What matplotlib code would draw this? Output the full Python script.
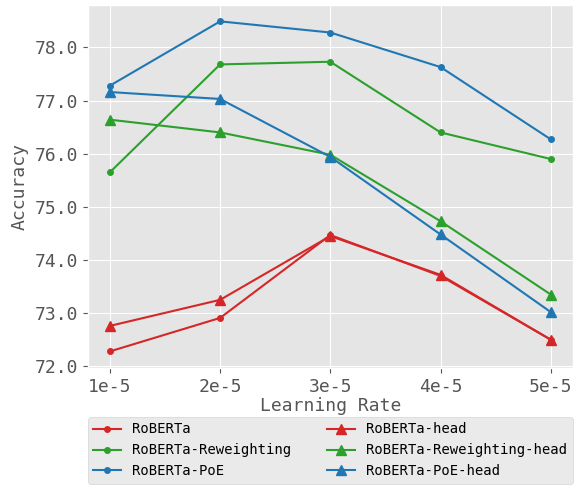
import matplotlib
matplotlib.use('Agg')
import numpy as np
import matplotlib.pyplot as plt

plt.style.use('ggplot')
plt.rcParams['font.family'] = ['DejaVu Sans Mono']

# data
lr_labels = ["1e-5", "2e-5", "3e-5", "4e-5", "5e-5"]
roberta = [72.28, 72.91, 74.47, 73.70, 72.50]
roberta_head = [72.76, 73.25, 74.45, 73.72, 72.50]
rew = [75.65, 77.68, 77.73, 76.40, 75.90]
rew_head = [76.64, 76.40, 75.98, 74.73, 73.35]
poe = [77.28, 78.49, 78.28, 77.63, 76.27]
poe_head = [77.16, 77.03, 75.94, 74.48, 73.02]

red = '#d62728'
green = '#2ca02c'
blue = '#1f77b4'

x = np.arange(len(lr_labels))

fig = plt.figure(figsize=(5.78, 4.86), dpi=100)
ax = fig.add_axes([0.152, 0.243, 0.839, 0.747])

ax.plot(x, roberta, color=red, marker='o', markersize=4, linewidth=1.5, label='RoBERTa')
ax.plot(x, rew, color=green, marker='o', markersize=4, linewidth=1.5, label='RoBERTa-Reweighting')
ax.plot(x, poe, color=blue, marker='o', markersize=4, linewidth=1.5, label='RoBERTa-PoE')
ax.plot(x, roberta_head, color=red, marker='^', markersize=7, linewidth=1.5, label='RoBERTa-head')
ax.plot(x, rew_head, color=green, marker='^', markersize=7, linewidth=1.5, label='RoBERTa-Reweighting-head')
ax.plot(x, poe_head, color=blue, marker='^', markersize=7, linewidth=1.5, label='RoBERTa-PoE-head')

ax.set_xticks(x)
ax.set_xticklabels(lr_labels)
ax.set_yticks([72, 73, 74, 75, 76, 77, 78])
ax.set_yticklabels(["%.1f" % v for v in [72, 73, 74, 75, 76, 77, 78]])
ax.tick_params(labelsize=13)
ax.set_xlabel('Learning Rate', fontsize=13, labelpad=1)
ax.set_ylabel('Accuracy', fontsize=13)

ax.legend(loc='upper left', bbox_to_anchor=(0, -0.5, 1.0, 0.365), mode='expand',
          ncol=2, fontsize=10, borderaxespad=0)

fig.savefig('out.png', dpi=100)
